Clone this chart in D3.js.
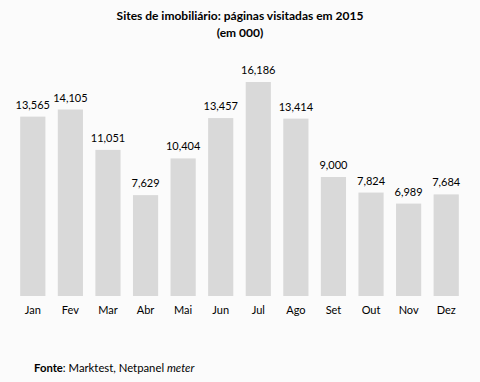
<!DOCTYPE html>
<html><head><meta charset="utf-8">
<script src="https://cdn.jsdelivr.net/npm/d3@7"></script>
<style>html,body{margin:0;padding:0;background:#fbfbfb;}svg{display:block;}</style>
</head><body>
<script>
const categories = ["Jan","Fev","Mar","Abr","Mai","Jun","Jul","Ago","Set","Out","Nov","Dez"];
const values = [13565,14105,11051,7629,10404,13457,16186,13414,9000,7824,6989,7684];

const W = 480, H = 382;
const svg = d3.select("body").append("svg").attr("width", W).attr("height", H);
svg.append("rect").attr("width", W).attr("height", H).attr("fill", "#fbfbfb");

const font = "Lato, 'Open Sans', sans-serif";
const x = d3.scaleBand().domain(categories).range([14, 465]).paddingInner(0.33).paddingOuter(0.165);
const y = d3.scaleLinear().domain([0, 18000]).range([296, 58]);

svg.append("g").selectAll("rect").data(values).join("rect")
  .attr("x", (d,i) => x(categories[i]))
  .attr("y", d => y(d))
  .attr("width", x.bandwidth())
  .attr("height", d => y(0) - y(d))
  .attr("fill", "#d9d9d9");

const fmt = d3.format(",");
svg.append("g").selectAll("text").data(values).join("text")
  .attr("x", (d,i) => x(categories[i]) + x.bandwidth()/2)
  .attr("y", d => y(d) - 8)
  .attr("text-anchor", "middle")
  .attr("font-family", font).attr("font-size", 11).attr("fill", "#000")
  .text(d => fmt(d));

const xAxis = d3.axisBottom(x).tickSize(0).tickPadding(10);
const gx = svg.append("g").attr("transform", `translate(0,${y(0)})`).call(xAxis);
gx.select(".domain").remove();
gx.selectAll("text").attr("font-family", font).attr("font-size", 11).attr("fill", "#000");

const title = svg.append("text").attr("text-anchor", "middle")
  .attr("font-family", font).attr("font-size", 12).attr("font-weight", "bold").attr("fill", "#000");
title.append("tspan").attr("x", 240).attr("y", 20).text("Sites de imobiliário: páginas visitadas em 2015");
title.append("tspan").attr("x", 240).attr("y", 37).text("(em 000)");

const src = svg.append("text").attr("x", 34).attr("y", 372)
  .attr("font-family", font).attr("font-size", 11.3).attr("fill", "#000");
src.append("tspan").attr("font-weight", "bold").text("Fonte");
src.append("tspan").text(": Marktest, Netpanel ");
src.append("tspan").attr("font-style", "italic").text("meter");
</script>
</body></html>
